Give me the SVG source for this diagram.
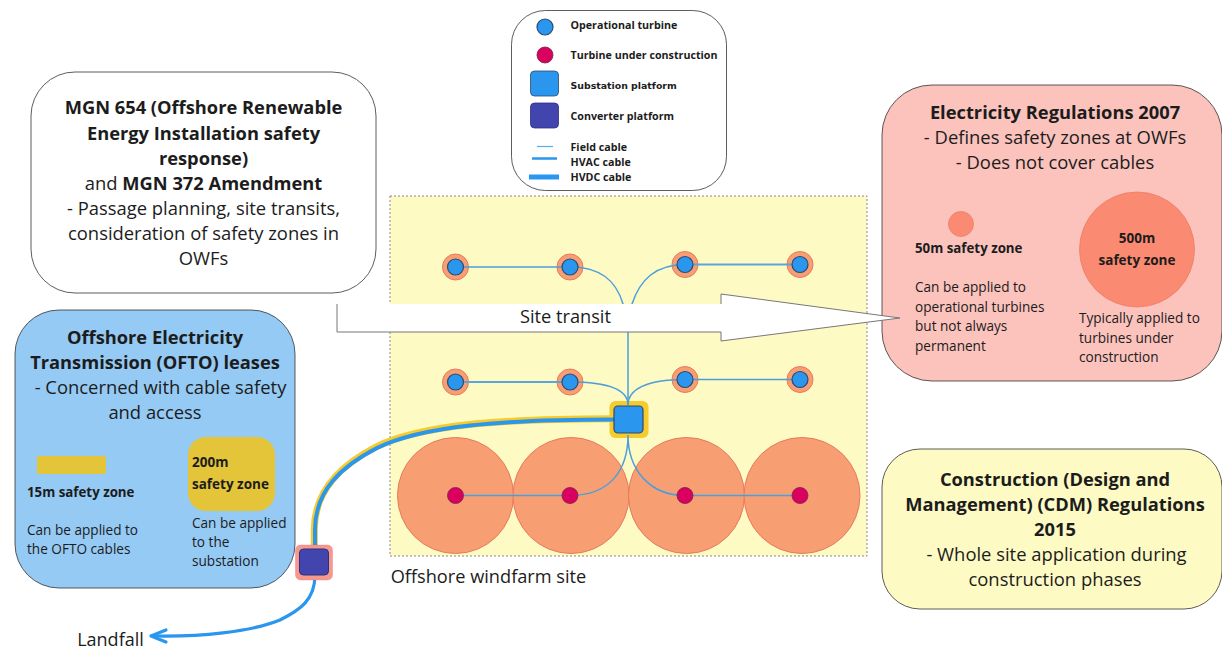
<svg xmlns="http://www.w3.org/2000/svg" width="1222" height="649" viewBox="0 0 1222 649">
<style>
text{font-family:"Open Sans","Noto Sans",sans-serif;fill:#1c1c1c;text-anchor:middle}
.t{font-size:18.4px}.b{font-weight:700;font-size:18.3px}
.s{font-size:13.6px;text-anchor:start}.sb{font-size:13.3px;font-weight:700;text-anchor:start}
.l{font-size:10.7px;font-weight:700;text-anchor:start}
.box{stroke:#333;stroke-width:.8}
.z{fill:#f79f72;stroke:#e77a5c;stroke-width:1}
.op{fill:#2a96ee;stroke:#2b4a70;stroke-width:1.2}
.uc{fill:#d90060;stroke:#7a1f4a;stroke-width:.8}
.f{fill:none;stroke:#4d9fdc;stroke-width:1.5}
</style>
<rect id="site" x="390" y="196" width="477" height="360" fill="#fdfac3" stroke="#888" stroke-width="1" stroke-dasharray="2 2"/>
<g id="legend">
<rect class="box" x="511.500" y="10.500" width="215" height="180" rx="34" fill="#fff"/>
<circle class="op" cx="545" cy="27" r="8"/>
<circle class="uc" cx="545" cy="55" r="8"/>
<rect x="530.500" y="71" width="28" height="25" rx="4" fill="#2a96ee" stroke="#2b4a70" stroke-width=".8"/>
<rect x="530.500" y="103" width="28" height="25" rx="4" fill="#4245ad" stroke="#2d3080" stroke-width=".8"/>
<path d="M537 146.500H553" stroke="#4fb0ea" stroke-width="1.2"/>
<path d="M532 158.500H557" stroke="#2a96ee" stroke-width="2.500"/>
<path d="M529 177H559" stroke="#2a96ee" stroke-width="5"/>
<text class="l" x="570.500" y="29">Operational turbine</text>
<text class="l" x="570.500" y="59">Turbine under construction</text>
<text x="570.500" y="89" style="font-family:'DejaVu Sans',sans-serif;font-size:9.400px;font-weight:700;text-anchor:start">Substation platform</text>
<text class="l" x="570.500" y="120">Converter platform</text>
<text class="l" x="570.500" y="151">Field cable</text>
<text class="l" x="570.500" y="166">HVAC cable</text>
<text class="l" x="570.500" y="181">HVDC cable</text>
</g>
<g id="mgn">
<rect class="box" x="31" y="72" width="345" height="221" rx="44" fill="#fff"/>
<text class="t b" x="203.500" y="114">MGN 654 (Offshore Renewable</text>
<text class="t b" x="203.500" y="140">Energy Installation safety</text>
<text class="t b" x="203.500" y="165">response)</text>
<text class="t" x="203.500" y="190">and <tspan class="b">MGN 372 Amendment</tspan></text>
<text class="t" x="203.500" y="215">- Passage planning, site transits,</text>
<text class="t" x="203.500" y="240">consideration of safety zones in</text>
<text class="t" x="203.500" y="265">OWFs</text>
</g>
<g id="ofto">
<rect class="box" x="15" y="310" width="280" height="278" rx="44" fill="#95caf5"/>
<text class="t b" x="155" y="344">Offshore Electricity</text>
<text class="t b" x="155" y="369">Transmission (OFTO) leases</text>
<text class="t" x="160.500" y="394">- Concerned with cable safety</text>
<text class="t" x="155" y="419">and access</text>
<rect x="37" y="456" width="69" height="18" rx="2" fill="#e4c53a"/>
<rect x="188" y="437" width="87" height="74" rx="18" fill="#e4c53a"/>
<text class="sb" x="27" y="497">15m safety zone</text>
<text class="s" x="27" y="535">Can be applied to</text>
<text class="s" x="27" y="554">the OFTO cables</text>
<text class="sb" x="192" y="467" style="font-size:13.500px">200m</text>
<text class="sb" x="192" y="489" style="font-size:13.500px">safety zone</text>
<text class="s" x="192" y="528">Can be applied</text>
<text class="s" x="192" y="547">to the</text>
<text class="s" x="192" y="566">substation</text>
</g>
<g id="regs">
<rect class="box" x="882" y="85" width="340" height="296" rx="50" fill="#fbc3bc"/>
<text class="t b" x="1055" y="119">Electricity Regulations 2007</text>
<text class="t" x="1055" y="144">- Defines safety zones at OWFs</text>
<text class="t" x="1055" y="169">- Does not cover cables</text>
<circle cx="961" cy="224" r="12.500" fill="#fb8a72" stroke="#ee7c66" stroke-width=".8"/>
<circle cx="1137" cy="249.500" r="57.500" fill="#fb8a72" stroke="#ee7c66" stroke-width=".8"/>
<text class="sb" x="915" y="253">50m safety zone</text>
<text class="s" x="915" y="292">Can be applied to</text>
<text class="s" x="915" y="312">operational turbines</text>
<text class="s" x="915" y="331">but not always</text>
<text class="s" x="915" y="351">permanent</text>
<text x="1137" y="243" style="font-size:13.500px;font-weight:700">500m</text>
<text x="1137" y="265" style="font-size:13.500px;font-weight:700">safety zone</text>
<text class="s" x="1079" y="323">Typically applied to</text>
<text class="s" x="1079" y="343">turbines under</text>
<text class="s" x="1079" y="362">construction</text>
</g>
<g id="cdm">
<rect class="box" x="882" y="449" width="340" height="160" rx="38" fill="#fdfac3"/>
<text class="t b" x="1055" y="486">Construction (Design and</text>
<text class="t b" x="1055" y="511">Management) (CDM) Regulations</text>
<text class="t b" x="1055" y="536">2015</text>
<text class="t" x="1056.500" y="561">- Whole site application during</text>
<text class="t" x="1055" y="586">construction phases</text>
</g>
<g id="zones">
<circle class="z" cx="455.500" cy="267" r="13"/><circle class="z" cx="570" cy="267" r="13"/><circle class="z" cx="685" cy="264.500" r="13"/><circle class="z" cx="800" cy="264.500" r="13"/>
<circle class="z" cx="455.500" cy="382" r="13"/><circle class="z" cx="570" cy="382" r="13"/><circle class="z" cx="685" cy="379.500" r="13"/><circle class="z" cx="800" cy="379.500" r="13"/>
<circle class="z" cx="455.500" cy="495.500" r="58"/><circle class="z" cx="571" cy="495.500" r="58"/><circle class="z" cx="686.500" cy="495.500" r="58"/><circle class="z" cx="802" cy="495.500" r="58"/>
<rect x="609.500" y="401" width="39" height="37" rx="6" fill="#f5cb2e"/>
</g>
<g id="connectors">
<path d="M314.300 550V530C314.300 490 341 465 376 447C421 425 500 418.700 615 418.700" fill="none" stroke="#f5cb2e" stroke-width="7"/>
<path d="M315 550V530C315 490 342 466 377 448C422 426 500 419.500 615 419.500" fill="none" stroke="#2a96ee" stroke-width="4"/>
<path d="M315 575C315 600 300 610 280 620C250 632 200 637 153 636" fill="none" stroke="#2a96ee" stroke-width="3.200"/>
<path d="M151 636L166 630M151 636L166 642" fill="none" stroke="#2a96ee" stroke-width="3.200" stroke-linecap="round"/>
<path class="f" d="M456 267H570M570 267C600 267 616 280 623 304L628 332V405"/>
<path d="M685 264.500H800" fill="none" stroke="#5aa6dc" stroke-width="2"/>
<path class="f" d="M685 264.500C655 264.500 640 280 632 304L628 332"/>
<path d="M456 382H570" fill="none" stroke="#5aa6dc" stroke-width="2"/>
<path class="f" d="M570 382C610 382 628 390 628 405M685 379.500C645 379.500 628 390 628 405M685 379.500H800"/>
<path class="f" d="M456 495.500H570C610 495.500 628 470 628 435M628 435C628 470 650 495.500 685 495.500H800"/>
</g>
<g id="turbines">
<circle class="op" cx="455.500" cy="267" r="8"/><circle class="op" cx="570" cy="267" r="8"/><circle class="op" cx="685" cy="264.500" r="8"/><circle class="op" cx="800" cy="264.500" r="8"/>
<circle class="op" cx="455.500" cy="382" r="8"/><circle class="op" cx="570" cy="382" r="8"/><circle class="op" cx="685" cy="379.500" r="8"/><circle class="op" cx="800" cy="379.500" r="8"/>
<circle class="uc" cx="455.500" cy="495.500" r="8"/><circle class="uc" cx="570" cy="495.500" r="8"/><circle class="uc" cx="685" cy="495.500" r="8"/><circle class="uc" cx="800" cy="495.500" r="8"/>
</g>
<g id="substation"><rect x="614" y="406" width="29" height="27" rx="4" fill="#2a96ee" stroke="#2b4a70" stroke-width="1.200"/></g>
<g id="converter">
<rect x="295.500" y="545" width="37" height="35" rx="5" fill="#f59a8a" stroke="#e58" stroke-opacity=".3"/>
<rect x="299.500" y="549" width="29" height="26" rx="4" fill="#4245ad" stroke="#2d3080"/>
</g>
<g id="transit">
<path d="M337 304H721V294L900 318L721 341V332H337Z" fill="#fff"/>
<path d="M337 304V332H721V341L900 318L721 294V304" fill="none" stroke="#777" stroke-width="1"/>
<text x="565.500" y="323" style="font-size:18.200px">Site transit</text>
</g>
<text x="488.500" y="583" style="font-size:18.200px">Offshore windfarm site</text>
<text x="110.500" y="646" style="font-size:18px">Landfall</text>
</svg>
